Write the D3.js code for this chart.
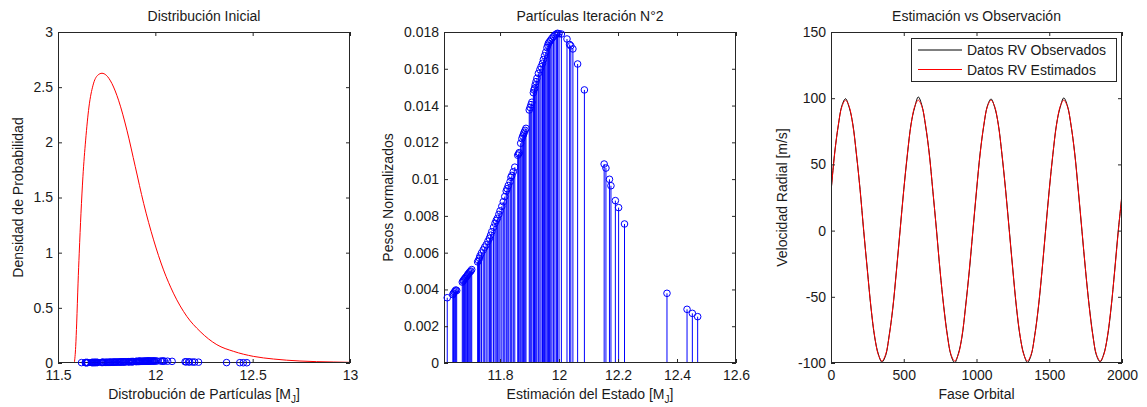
<!DOCTYPE html>
<html>
<head>
<meta charset="utf-8">
<script src="https://cdn.jsdelivr.net/npm/d3@7"></script>
<style>
  html, body { margin: 0; padding: 0; background: #fff; }
  svg { display: block; font-family: "Liberation Sans", Arial, sans-serif; }
  text { fill: #1a1a1a; }
</style>
</head>
<body>
<svg id="chart" width="1147" height="407"></svg>
<script>
// ---- Panel 1: initial distribution (density curve) ----
const densityMass = [11.584, 11.591, 11.596, 11.603, 11.609, 11.618, 11.628, 11.642, 11.659, 11.680,
  11.704, 11.726, 11.748, 11.777, 11.811, 11.854, 11.897, 11.940, 11.991, 12.042,
  12.093, 12.162, 12.230, 12.316, 12.401, 12.504, 12.607, 12.743, 12.914, 13.0];
const densityValue = [0, 0.151, 0.362, 0.724, 0.995, 1.357, 1.688, 2.02, 2.32, 2.518,
  2.608, 2.626, 2.608, 2.533, 2.382, 2.11, 1.779, 1.447, 1.116, 0.844,
  0.633, 0.422, 0.286, 0.166, 0.106, 0.060, 0.036, 0.018, 0.009, 0.006];

// ---- Particles (mass estimate and normalized weight) ----
const particleMass = [11.621, 11.640, 11.642, 11.645, 11.648, 11.650, 11.653,
  11.672, 11.675, 11.677, 11.680, 11.682, 11.685, 11.688, 11.690, 11.692, 11.695, 11.698, 11.701, 11.704,
  11.724, 11.727, 11.730, 11.732, 11.737, 11.743, 11.748, 11.753, 11.759, 11.764,
  11.768, 11.772, 11.778, 11.783, 11.787, 11.791, 11.796, 11.800, 11.806, 11.811,
  11.816, 11.821, 11.824, 11.828, 11.834, 11.837, 11.840, 11.845, 11.850, 11.860,
  11.863, 11.865, 11.870, 11.874, 11.877, 11.880, 11.882, 11.885, 11.888, 11.899,
  11.902, 11.905, 11.908, 11.913, 11.915, 11.917, 11.919, 11.922, 11.925, 11.930,
  11.935, 11.939, 11.944, 11.947, 11.951, 11.955, 11.959, 11.962, 11.964, 11.968,
  11.972, 11.976, 11.981, 11.986, 11.991, 11.995, 12.000, 12.008, 12.027, 12.036,
  12.040, 12.047, 12.063, 12.086, 12.153, 12.159, 12.171, 12.176, 12.191, 12.202,
  12.222, 12.366, 12.434, 12.452, 12.470];
const particleWeight = [0.00355, 0.00372, 0.00379, 0.00386, 0.00391, 0.00397, 0.00394,
  0.00440, 0.00446, 0.00452, 0.00458, 0.00462, 0.00468, 0.00474, 0.00479, 0.00484, 0.00490, 0.00496, 0.00500, 0.00508,
  0.00550, 0.00558, 0.00570, 0.00582, 0.00598, 0.00615, 0.00630, 0.00643, 0.00662, 0.00678,
  0.00695, 0.00714, 0.00738, 0.00760, 0.00775, 0.00787, 0.00808, 0.00827, 0.00852, 0.00877,
  0.00905, 0.00935, 0.00948, 0.00965, 0.00986, 0.01010, 0.01020, 0.01040, 0.01065, 0.01130,
  0.01137, 0.01144, 0.01195, 0.01220, 0.01234, 0.01245, 0.01255, 0.01265, 0.01276, 0.01376,
  0.01390, 0.01405, 0.01418, 0.01470, 0.01485, 0.01494, 0.01512, 0.01530, 0.01548, 0.01575,
  0.01595, 0.01611, 0.01630, 0.01650, 0.01671, 0.01690, 0.01715, 0.01728, 0.01739, 0.01748,
  0.01756, 0.01766, 0.01775, 0.01784, 0.01789, 0.01793, 0.01791, 0.01789, 0.01762, 0.01732,
  0.01725, 0.01708, 0.01626, 0.01485, 0.01082, 0.01060, 0.00999, 0.00964, 0.00883, 0.00845,
  0.00756, 0.00379, 0.00292, 0.00270, 0.00252];

// ---- Panel 3: radial velocity vs orbital phase ----
const orbitalPhase = [0, 25, 50, 75, 100, 125, 150, 175, 200, 225, 250, 275, 300, 325, 350, 375, 400, 425, 450, 475,
  500, 525, 550, 575, 600, 625, 650, 675, 700, 725, 750, 775, 800, 825, 850, 875, 900, 925, 950, 975,
  1000, 1025, 1050, 1075, 1100, 1125, 1150, 1175, 1200, 1225, 1250, 1275, 1300, 1325, 1350, 1375, 1400, 1425, 1450, 1475,
  1500, 1525, 1550, 1575, 1600, 1625, 1650, 1675, 1700, 1725, 1750, 1775, 1800, 1825, 1850, 1875, 1900, 1925, 1950, 1975,
  2000];
const rvObserved = [29.0, 58.6, 79.1, 94.4, 99.6, 93.0, 80.5, 57.2, 31.1, -0.8, -29.6, -58.5, -80.4, -93.1, -99.3, -94.5, -79.0, -58.6, -29.8, 0.7,
  30.9, 57.2, 80.4, 93.0, 100.9, 94.4, 79.0, 58.7, 29.7, 0.6, -31.0, -57.3, -79.0, -94.3, -99.8, -93.0, -80.5, -57.1, -31.2, -0.6,
  29.8, 58.5, 79.1, 94.2, 99.4, 93.1, 80.3, 57.3, 30.9, 0.8, -29.7, -58.6, -80.2, -93.2, -99.6, -94.3, -79.1, -58.4, -30.9, 0.5,
  31.0, 57.4, 80.3, 93.1, 100.2, 94.2, 79.2, 58.6, 29.6, -0.7, -30.8, -57.2, -79.0, -94.4, -99.1, -93.1, -80.4, -58.5, -29.7, 0.8,
  26.0];
const rvEstimated = [29.5, 57.9, 79.7, 93.7, 98.5, 93.7, 79.7, 57.9, 30.4, 0, -30.4, -57.9, -79.7, -93.7, -98.5, -93.7, -79.7, -57.9, -30.4, 0,
  30.4, 57.9, 79.7, 93.7, 98.5, 93.7, 79.7, 57.9, 30.4, 0, -30.4, -57.9, -79.7, -93.7, -98.5, -93.7, -79.7, -57.9, -30.4, 0,
  30.4, 57.9, 79.7, 93.7, 98.5, 93.7, 79.7, 57.9, 30.4, 0, -30.4, -57.9, -79.7, -93.7, -98.5, -93.7, -79.7, -57.9, -30.4, 0,
  30.4, 57.9, 79.7, 93.7, 98.5, 93.7, 79.7, 57.9, 30.4, 0, -30.4, -57.9, -79.7, -93.7, -98.5, -93.7, -79.7, -57.9, -30.4, 0,
  28.0];
const legendLabels = ["Datos RV Observados", "Datos RV Estimados"];

// ---- Tick values and labels ----
const p1XTicks = [11.5, 12, 12.5, 13];
const p1XLabels = ["11.5", "12", "12.5", "13"];
const p1YTicks = [0, 0.5, 1, 1.5, 2, 2.5, 3];
const p1YLabels = ["0", "0.5", "1", "1.5", "2", "2.5", "3"];
const p2XTicks = [11.8, 12, 12.2, 12.4, 12.6];
const p2XLabels = ["11.8", "12", "12.2", "12.4", "12.6"];
const p2YTicks = [0, 0.002, 0.004, 0.006, 0.008, 0.01, 0.012, 0.014, 0.016, 0.018];
const p2YLabels = ["0", "0.002", "0.004", "0.006", "0.008", "0.01", "0.012", "0.014", "0.016", "0.018"];
const p3XTicks = [0, 500, 1000, 1500, 2000];
const p3XLabels = ["0", "500", "1000", "1500", "2000"];
const p3YTicks = [-100, -50, 0, 50, 100, 150];
const p3YLabels = ["-100", "-50", "0", "50", "100", "150"];

const svg = d3.select("#chart");
const AX = "#262626";
const TOP = 32, BOTTOM = 363;

function panel(id, left, right, xDomain, yDomain, xt, xl, yt, yl, title, xLabel, yLabel, yLabelX) {
  const x = d3.scaleLinear().domain(xDomain).range([left, right]);
  const y = d3.scaleLinear().domain(yDomain).range([BOTTOM, TOP]);
  const g = svg.append("g").attr("class", id);

  svg.append("clipPath").attr("id", "clip-" + id)
    .append("rect").attr("x", left).attr("y", TOP).attr("width", right - left).attr("height", BOTTOM - TOP);

  const plot = g.append("g").attr("clip-path", "url(#clip-" + id + ")");
  const axes = g.append("g");

  const fmt = (labels, ticks) => (d) => labels[ticks.indexOf(d)];
  const style = sel => {
    sel.select(".domain").remove();
    sel.selectAll("line").attr("stroke", AX);
    sel.selectAll("text").attr("font-family", null).attr("font-size", 14).attr("fill", "#1a1a1a");
    sel.attr("font-family", null);
  };
  axes.append("g").attr("transform", `translate(0,${BOTTOM})`)
    .call(d3.axisBottom(x).tickValues(xt).tickFormat(fmt(xl, xt)).tickSizeInner(-4).tickSizeOuter(0).tickPadding(7))
    .call(style);
  axes.append("g").attr("transform", `translate(0,${TOP})`)
    .call(d3.axisTop(x).tickValues(xt).tickFormat("").tickSizeInner(-4).tickSizeOuter(0))
    .call(style);
  axes.append("g").attr("transform", `translate(${left},0)`)
    .call(d3.axisLeft(y).tickValues(yt).tickFormat(fmt(yl, yt)).tickSizeInner(-4).tickSizeOuter(0).tickPadding(5))
    .call(style);
  axes.append("g").attr("transform", `translate(${right},0)`)
    .call(d3.axisRight(y).tickValues(yt).tickFormat("").tickSizeInner(-4).tickSizeOuter(0))
    .call(style);
  axes.append("rect").attr("x", left + 0.5).attr("y", TOP + 0.5)
    .attr("width", right - left - 1).attr("height", BOTTOM - TOP - 1)
    .attr("fill", "none").attr("stroke", AX).attr("stroke-width", 1);

  const cx = (left + right) / 2;
  g.append("text").attr("x", cx).attr("y", 21).attr("text-anchor", "middle")
    .attr("font-size", 14).text(title);
  const xt2 = g.append("text").attr("x", cx).attr("y", 399).attr("text-anchor", "middle").attr("font-size", 14);
  if (Array.isArray(xLabel)) {
    xt2.append("tspan").text(xLabel[0]);
    xt2.append("tspan").attr("font-size", 10).attr("dy", 4).text(xLabel[1]);
    xt2.append("tspan").attr("dy", -4).text(xLabel[2]);
  } else {
    xt2.text(xLabel);
  }
  g.append("text").attr("transform", `translate(${yLabelX},${(TOP + BOTTOM) / 2}) rotate(-90)`)
    .attr("text-anchor", "middle").attr("font-size", 14).text(yLabel);

  return { x, y, plot, axes };
}

// Panel 1
const p1 = panel("p1", 58, 350, [11.5, 13], [0, 3], p1XTicks, p1XLabels, p1YTicks, p1YLabels,
  "Distribución Inicial", ["Distrobución de Partículas [M", "J", "]"], "Densidad de Probabilidad", 23);
const densityPts = densityMass.map((m, i) => [m, densityValue[i]]);
p1.plot.append("path").datum(densityPts)
  .attr("fill", "none").attr("stroke", "#ff0000").attr("stroke-width", 1)
  .attr("d", d3.line().x(d => p1.x(d[0])).y(d => p1.y(d[1])).curve(d3.curveMonotoneX));
const particles = particleMass.map((m, i) => ({ m, w: particleWeight[i] }));
p1.axes.append("g").selectAll("circle").data(particles).join("circle")
  .attr("cx", d => p1.x(d.m)).attr("cy", d => p1.y(d.w)).attr("r", 3.3)
  .attr("fill", "none").attr("stroke", "#0000ff").attr("stroke-width", 1);

// Panel 2
const p2 = panel("p2", 444, 736, [11.61, 12.6], [0, 0.018], p2XTicks, p2XLabels, p2YTicks, p2YLabels,
  "Partículas Iteración N°2", ["Estimación del Estado [M", "J", "]"], "Pesos Normalizados", 393);
p2.plot.append("g").selectAll("line").data(particles).join("line")
  .attr("x1", d => p2.x(d.m)).attr("x2", d => p2.x(d.m))
  .attr("y1", p2.y(0)).attr("y2", d => p2.y(d.w))
  .attr("stroke", "#0000ff").attr("stroke-width", 1);
p2.axes.append("g").selectAll("circle").data(particles).join("circle")
  .attr("cx", d => p2.x(d.m)).attr("cy", d => p2.y(d.w)).attr("r", 3.3)
  .attr("fill", "none").attr("stroke", "#0000ff").attr("stroke-width", 1);

// Panel 3
const p3 = panel("p3", 831, 1122, [0, 2000], [-100, 150], p3XTicks, p3XLabels, p3YTicks, p3YLabels,
  "Estimación vs Observación", "Fase Orbital", "Velocidad Radial [m/s]", 787);
const rvLine = d3.line().x(d => p3.x(d[0])).y(d => p3.y(d[1])).curve(d3.curveCatmullRom);
p3.plot.append("path").datum(orbitalPhase.map((t, i) => [t, rvObserved[i]]))
  .attr("fill", "none").attr("stroke", "#000000").attr("stroke-width", 1).attr("d", rvLine);
p3.plot.append("path").datum(orbitalPhase.map((t, i) => [t, rvEstimated[i]]))
  .attr("fill", "none").attr("stroke", "#ff0000").attr("stroke-width", 1).attr("d", rvLine);

// Legend
const lg = p3.axes.append("g");
lg.append("rect").attr("x", 911.5).attr("y", 38.5).attr("width", 205).attr("height", 43)
  .attr("fill", "#fff").attr("stroke", AX).attr("stroke-width", 1);
const legendColors = ["#000000", "#ff0000"];
legendLabels.forEach((lab, i) => {
  const yy = 50 + i * 19.5;
  lg.append("line").attr("x1", 918).attr("x2", 962).attr("y1", yy).attr("y2", yy)
    .attr("stroke", legendColors[i]).attr("stroke-width", 1);
  lg.append("text").attr("x", 967).attr("y", yy + 5).attr("font-size", 14).text(lab);
});
</script>
</body>
</html>
